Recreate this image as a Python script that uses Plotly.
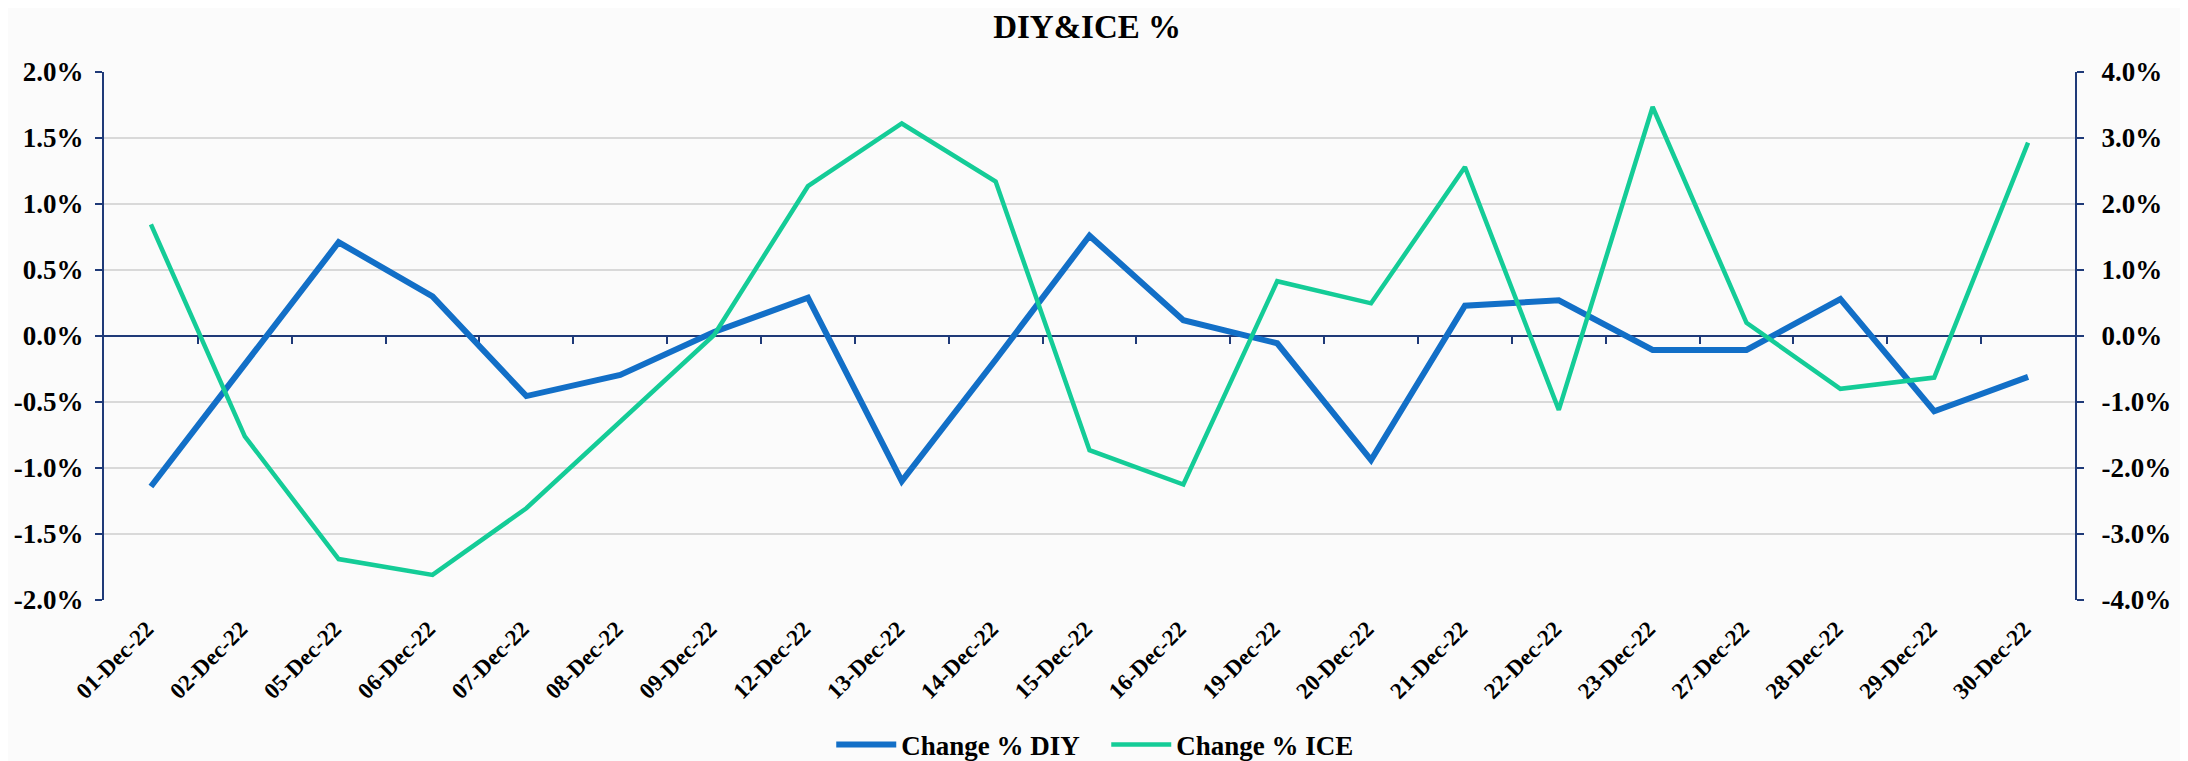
import plotly.graph_objects as go

dates = ["01-Dec-22", "02-Dec-22", "05-Dec-22", "06-Dec-22", "07-Dec-22", "08-Dec-22",
         "09-Dec-22", "12-Dec-22", "13-Dec-22", "14-Dec-22", "15-Dec-22", "16-Dec-22",
         "19-Dec-22", "20-Dec-22", "21-Dec-22", "22-Dec-22", "23-Dec-22", "27-Dec-22",
         "28-Dec-22", "29-Dec-22", "30-Dec-22"]
change_diy = [-0.0114, -0.0021, 0.0071, 0.0030, -0.00455, -0.00295, 0.0003, 0.0029,
              -0.0110, -0.0018, 0.0076, 0.0012, -0.00055, -0.0094, 0.0023, 0.0027,
              -0.00106, -0.00106, 0.0028, -0.0057, -0.0031]
change_ice = [0.0169, -0.0152, -0.0338, -0.0362, -0.0261, -0.0130, 0.00015, 0.0227,
              0.0322, 0.0234, -0.0173, -0.0225, 0.0083, 0.00495, 0.0256, -0.0112,
              0.0347, 0.0020, -0.0080, -0.0063, 0.0293]
left_ticks = [-0.02, -0.015, -0.01, -0.005, 0.0, 0.005, 0.01, 0.015, 0.02]
left_tick_labels = ["-2.0%", "-1.5%", "-1.0%", "-0.5%", "0.0%", "0.5%", "1.0%", "1.5%", "2.0%"]
right_ticks = [-0.04, -0.03, -0.02, -0.01, 0.0, 0.01, 0.02, 0.03, 0.04]
right_tick_labels = ["-4.0%", "-3.0%", "-2.0%", "-1.0%", "0.0%", "1.0%", "2.0%", "3.0%", "4.0%"]

BLUE = "#126FC7"
GREEN = "#14CC97"
NAVY = "#1F3A78"
FONT = "Liberation Serif, Times New Roman, serif"
xs = list(range(len(dates)))
bounds = [i + 0.5 for i in range(len(dates) - 1)]
# trailing non-breaking space nudges the rotated labels down-left
tick_text = [d + "\u00a0" for d in dates]

# the page body has an 8px margin, so the figure is sized to end at the window edge
W, H = 2180, 753

fig = go.Figure()
# zero-line axis carrier (no visible data)
fig.add_trace(go.Scatter(x=[None], y=[None], xaxis="x2", yaxis="y", showlegend=False,
                         hoverinfo="skip"))
fig.add_trace(go.Scatter(x=xs, y=change_diy, name="Change % DIY", mode="lines",
                         line=dict(color=BLUE, width=6), yaxis="y"))
fig.add_trace(go.Scatter(x=xs, y=change_ice, name="Change % ICE", mode="lines",
                         line=dict(color=GREEN, width=4.5), yaxis="y2"))

tickfont = dict(family=FONT, size=27, color="black", weight="bold")

fig.update_layout(
    width=W, height=H,
    margin=dict(l=96, r=113, t=64, b=161, autoexpand=False),
    paper_bgcolor="#FBFBFB", plot_bgcolor="#FBFBFB",
    title=dict(text="DIY&ICE %", x=0.495, xanchor="center", y=1 - 18 / H,
               yanchor="middle", font=dict(family=FONT, size=33, color="black", weight="bold")),
    xaxis=dict(range=[-0.5, len(dates) - 0.5], tickmode="array", tickvals=xs, ticktext=tick_text,
               tickangle=-45, tickfont=dict(family=FONT, size=23, color="black", weight="bold"),
               showgrid=False, zeroline=False, showline=False, ticks="", ticklabelstandoff=6,
               automargin=False),
    xaxis2=dict(overlaying="x", anchor="free", position=0.5, range=[-0.5, len(dates) - 0.5],
                tickmode="array", tickvals=bounds, showticklabels=False, showgrid=False,
                zeroline=False, showline=True, linecolor=NAVY, linewidth=2, ticks="outside",
                ticklen=7, tickwidth=2, tickcolor=NAVY, layer="below traces", automargin=False),
    yaxis=dict(range=[-0.02, 0.02], tickmode="array", tickvals=left_ticks,
               ticktext=left_tick_labels,
               tickfont=tickfont, showgrid=True, gridcolor="#D9D9D9", gridwidth=2,
               zeroline=False, showline=True, linecolor=NAVY, linewidth=2, ticks="outside",
               ticklen=7, tickwidth=2, tickcolor=NAVY, ticklabelstandoff=6, automargin=False),
    yaxis2=dict(range=[-0.04, 0.04], tickmode="array", tickvals=right_ticks,
                ticktext=right_tick_labels,
                overlaying="y", side="right", tickfont=tickfont, showgrid=False,
                zeroline=False, showline=True, linecolor=NAVY, linewidth=2, ticks="outside",
                ticklen=7, tickwidth=2, tickcolor=NAVY, ticklabelstandoff=12, automargin=False),
    legend=dict(orientation="h", x=0.5085, xanchor="center", yref="container",
                y=(H - 737) / H, yanchor="middle",
                font=dict(family=FONT, size=27, color="black", weight="bold"),
                bgcolor="rgba(0,0,0,0)", itemwidth=60, entrywidth=200,
                entrywidthmode="pixels"),
    showlegend=True,
)

fig.write_html("out.html")
